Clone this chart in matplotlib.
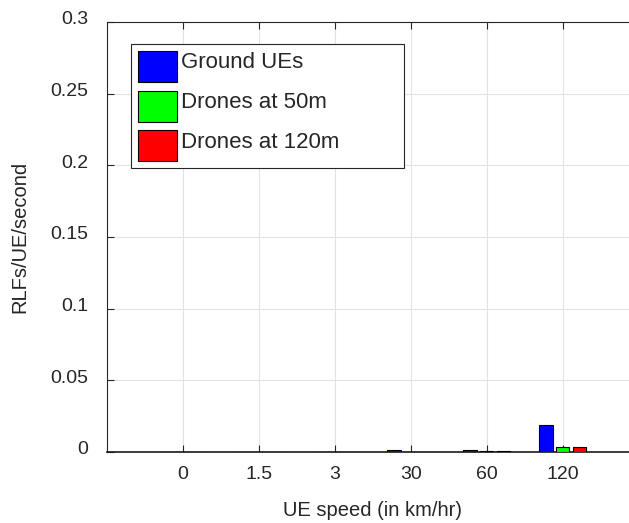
import numpy as np
import matplotlib
matplotlib.use("Agg")
import matplotlib.pyplot as plt
import matplotlib.transforms as mtransforms

# Radio-link failures per UE per second, grouped by UE speed
speeds = ["0", "1.5", "3", "30", "60", "120"]
ground_ues = [0.0, 0.0, 0.0, 0.0015, 0.0015, 0.0188]
drones_50m = [0.0, 0.0, 0.0, 0.0, 0.0004, 0.0035]
drones_120m = [0.0, 0.0, 0.0, 0.0, 0.0004, 0.0035]
series_names = ["Ground UEs", "Drones at 50m", "Drones at 120m"]
yticks = [0, 0.05, 0.1, 0.15, 0.2, 0.25, 0.3]
ytick_labels = ["0", "0.05", "0.1", "0.15", "0.2", "0.25", "0.3"]

plt.rcParams["font.family"] = ["Liberation Sans", "DejaVu Sans"]
text_color = "#262626"
plt.rcParams["text.color"] = text_color
plt.rcParams["axes.labelcolor"] = text_color
plt.rcParams["xtick.labelcolor"] = text_color
plt.rcParams["ytick.labelcolor"] = text_color

W, H, DPI = 629, 523, 100
fig = plt.figure(figsize=(W / DPI, H / DPI), dpi=DPI)
ax = fig.add_axes([106.7 / W, 71 / H, 532 / W, 430 / H])

x = np.arange(1, len(speeds) + 1)
offset = 0.222
width = 0.178
colors = ["#0000ff", "#00ff00", "#ff0000"]
for i, (vals, name, c) in enumerate(zip([ground_ues, drones_50m, drones_120m],
                                          series_names, colors)):
    ax.bar(x + (i - 1) * offset, vals, width, color=c, edgecolor="black",
           linewidth=0.8, label=name, zorder=3)

ax.set_xlim(0, 7)
ax.set_ylim(0, 0.3)
ax.set_xticks(x)
ax.set_xticklabels(speeds)
ax.set_yticks(yticks)
ax.set_yticklabels(ytick_labels)

axis_gray = "#262626"
ax.grid(True, color="#e3e3e3", linewidth=0.8, zorder=0)
ax.set_axisbelow(True)
for side in ["left", "top", "right"]:
    ax.spines[side].set_color(axis_gray)
    ax.spines[side].set_linewidth(0.8)
ax.spines["bottom"].set_color("#1a1a1a")
ax.spines["bottom"].set_linewidth(1.2)

ax.tick_params(axis="both", direction="in", length=5, width=0.8,
               color=axis_gray, top=True, right=True, labelsize=14)
ax.tick_params(axis="y", pad=13.5)
ax.tick_params(axis="x", pad=10)

# nudge y tick labels upward slightly
shift = mtransforms.ScaledTranslation(0, 3 / 72, fig.dpi_scale_trans)
for lab in ax.get_yticklabels():
    lab.set_transform(lab.get_transform() + shift)

ax.set_xlabel("UE speed (in km/hr)", fontsize=14.5, labelpad=13)
ax.set_ylabel("RLFs/UE/second", fontsize=14.5, labelpad=15)

leg = ax.legend(loc="upper left",
                bbox_to_anchor=(131 / W, 1 - 44 / H, (404 - 131) / W, 0.0),
                bbox_transform=fig.transFigure, mode="expand",
                borderaxespad=0, fontsize=16, handlelength=1.76,
                handleheight=1.77, handletextpad=0.2, labelspacing=0.4,
                borderpad=0.3, fancybox=False, framealpha=1,
                edgecolor=axis_gray)
leg.get_frame().set_linewidth(0.8)

# legend labels sit toward the top of their swatches
text_shift = mtransforms.ScaledTranslation(0, 4 / 72, fig.dpi_scale_trans)
for t in leg.get_texts():
    t.set_transform(t.get_transform() + text_shift)

fig.savefig("out.png", dpi=DPI)
